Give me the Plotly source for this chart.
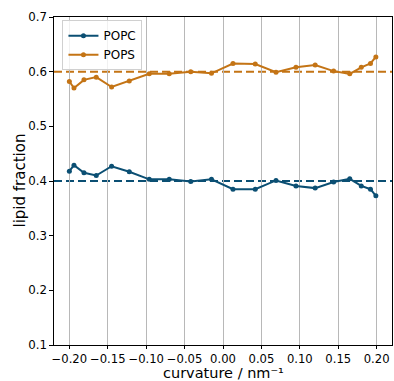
import plotly.graph_objects as go

# curvature bins (nm^-1) and lipid fractions per bin
curvature = [-0.200, -0.194, -0.181, -0.165, -0.145, -0.122, -0.096, -0.070, -0.042, -0.015,
             0.013, 0.042, 0.069, 0.095, 0.120, 0.144, 0.165, 0.180, 0.192, 0.199]
popc = [0.418, 0.429, 0.415, 0.410, 0.427, 0.417, 0.403, 0.403, 0.399, 0.403,
        0.385, 0.385, 0.401, 0.391, 0.387, 0.398, 0.404, 0.391, 0.385, 0.373]
pops = [0.582, 0.570, 0.585, 0.590, 0.572, 0.583, 0.596, 0.596, 0.600, 0.597,
        0.615, 0.614, 0.599, 0.608, 0.612, 0.601, 0.596, 0.608, 0.615, 0.627]

# bulk composition reference levels
ref_popc = 0.4
ref_pops = 0.6

x_ticks = [-0.20, -0.15, -0.10, -0.05, 0.00, 0.05, 0.10, 0.15, 0.20]
y_ticks = [0.1, 0.2, 0.3, 0.4, 0.5, 0.6, 0.7]

BLUE = "#0b4f73"
ORANGE = "#c47415"
FONT = "DejaVu Sans"

fig = go.Figure()
fig.add_trace(go.Scatter(x=curvature, y=popc, name="POPC", mode="lines+markers",
                         line=dict(color=BLUE, width=2), marker=dict(size=5, color=BLUE)))
fig.add_trace(go.Scatter(x=curvature, y=pops, name="POPS", mode="lines+markers",
                         line=dict(color=ORANGE, width=2), marker=dict(size=5, color=ORANGE)))

for level, col in [(ref_popc, BLUE), (ref_pops, ORANGE)]:
    fig.add_shape(type="line", xref="paper", yref="y", x0=0, x1=1, y0=level, y1=level,
                  line=dict(color=col, width=2, dash="8px,4px"), layer="below")

# axis titles placed as annotations so they sit clear of the tick labels
fig.add_annotation(text="curvature / nm⁻¹", xref="paper", yref="paper",
                   x=0.5, y=-0.0865, xanchor="center", yanchor="middle", showarrow=False,
                   font=dict(family=FONT, size=14.5, color="black"))
fig.add_annotation(text="lipid fraction", xref="paper", yref="paper",
                   x=-0.102, y=0.5, xanchor="center", yanchor="middle", textangle=-90,
                   showarrow=False, font=dict(family=FONT, size=15, color="black"))

fig.update_layout(
    width=394, height=381,
    margin=dict(l=54, r=2, t=17, b=36),
    paper_bgcolor="white", plot_bgcolor="white",
    font=dict(family=FONT, size=12, color="black"),
    showlegend=True,
    legend=dict(x=0.025, y=0.99, xanchor="left", yanchor="top",
                bgcolor="rgba(255,255,255,0.8)", bordercolor="#d0d0d0", borderwidth=1,
                font=dict(family=FONT, size=12), itemwidth=30, tracegroupgap=0),
    xaxis=dict(range=[-0.22, 0.22], tickvals=x_ticks, tickformat=".2f",
               showgrid=True, gridcolor="#b8b8b8", gridwidth=1.2, zeroline=False,
               showline=True, linecolor="black", linewidth=1.2, mirror=True,
               ticks="outside", ticklen=3, tickcolor="black",
               tickfont=dict(family=FONT, size=11.6), automargin=False),
    yaxis=dict(range=[0.1, 0.7], tickvals=y_ticks, tickformat=".1f",
               showgrid=False, zeroline=False,
               showline=True, linecolor="black", linewidth=1.2, mirror=True,
               ticks="outside", ticklen=3.5, tickcolor="black",
               tickfont=dict(family=FONT, size=11.8), automargin=False),
)

fig.write_html("out.html")
